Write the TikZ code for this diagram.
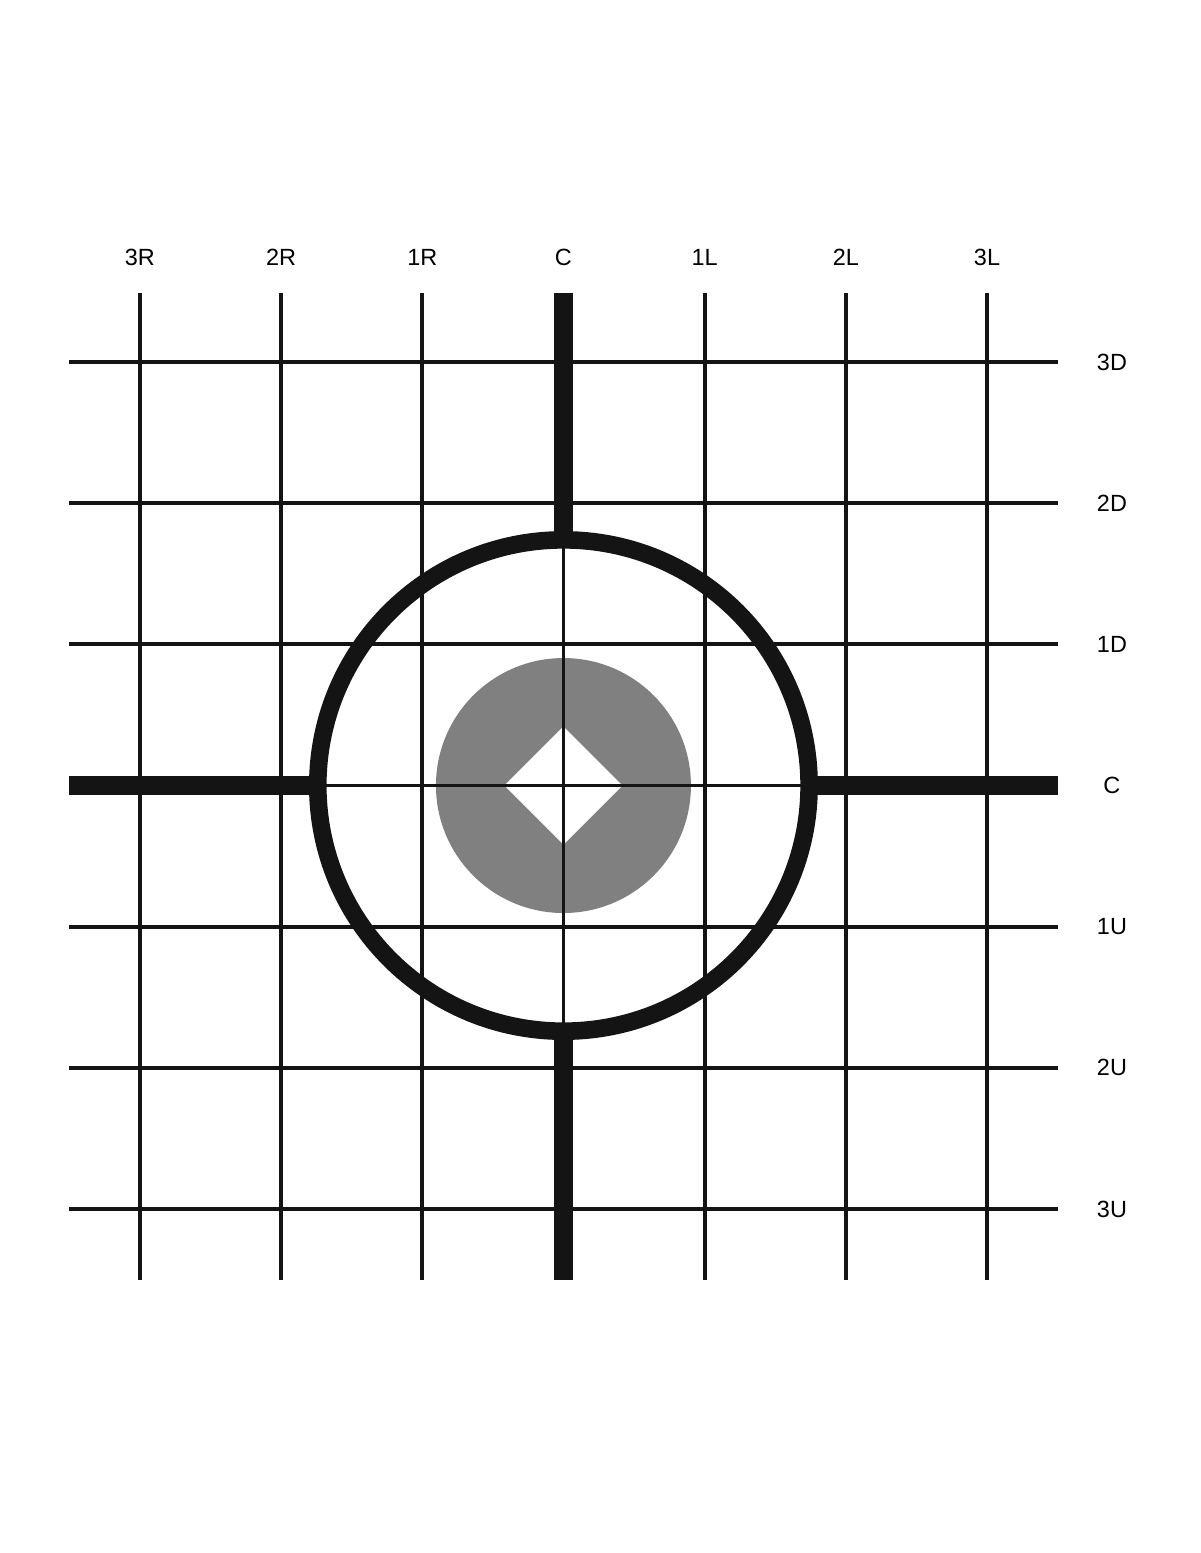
\documentclass[tikz,border=0pt]{standalone}
\usepackage{fontspec}
\setmainfont{Liberation Sans}
\definecolor{dotgray}{HTML}{808080}
\definecolor{inkblack}{HTML}{141414}

\begin{document}
\begin{tikzpicture}[x=1in, y=1in,
		thinline/.style={draw=inkblack, line width=2pt},
		thickline/.style={draw=inkblack, line width=10pt},
		ringline/.style={draw=inkblack, line width=9pt},
		lab/.style={font=\fontsize{12}{14}\selectfont, inner sep=0pt}]
				\useasboundingbox (-3.991,-5.436) rectangle (4.509,5.564);
				\fill[white] (-3.991,-5.436) rectangle (4.509,5.564);
				% gray dot with white diamond
				\fill[dotgray] (0,0) circle (0.903);
				\fill[white] (-0.418,0) -- (0,0.418) -- (0.418,0) -- (0,-0.418) -- cycle;
				% grid
				\foreach \k in {-3,...,3} {
					\draw[thinline] (\k,-3.505) -- (\k,3.492);
					\draw[thinline] (-3.5,\k) -- (3.5,\k);
				}
				% heavy cross and ring
				\coordinate (ctr) at (0,0);
				\coordinate (ntop) at (0,3.492);
				\coordinate (nbot) at (0,-3.505);
				\coordinate (nleft) at (-3.5,0);
				\coordinate (nright) at (3.5,0);
				\draw[thickline] (ntop) -- (0,1.74);
				\draw[thickline] (nbot) -- (0,-1.74);
				\draw[thickline] (nleft) -- (-1.74,0);
				\draw[thickline] (nright) -- (1.74,0);
				\draw[ringline] (ctr) circle (1.74);
				% labels
				\foreach \lab [count=\i from -3] in {3R,2R,1R,C,1L,2L,3L}
					\node[lab] (top\i) at (\i,3.743) {\lab};
				\foreach \lab [count=\i from -3] in {3U,2U,1U,C,1D,2D,3D}
					\node[lab] (side\i) at (3.885,\i) {\lab};
		    \end{tikzpicture}
\end{document}
